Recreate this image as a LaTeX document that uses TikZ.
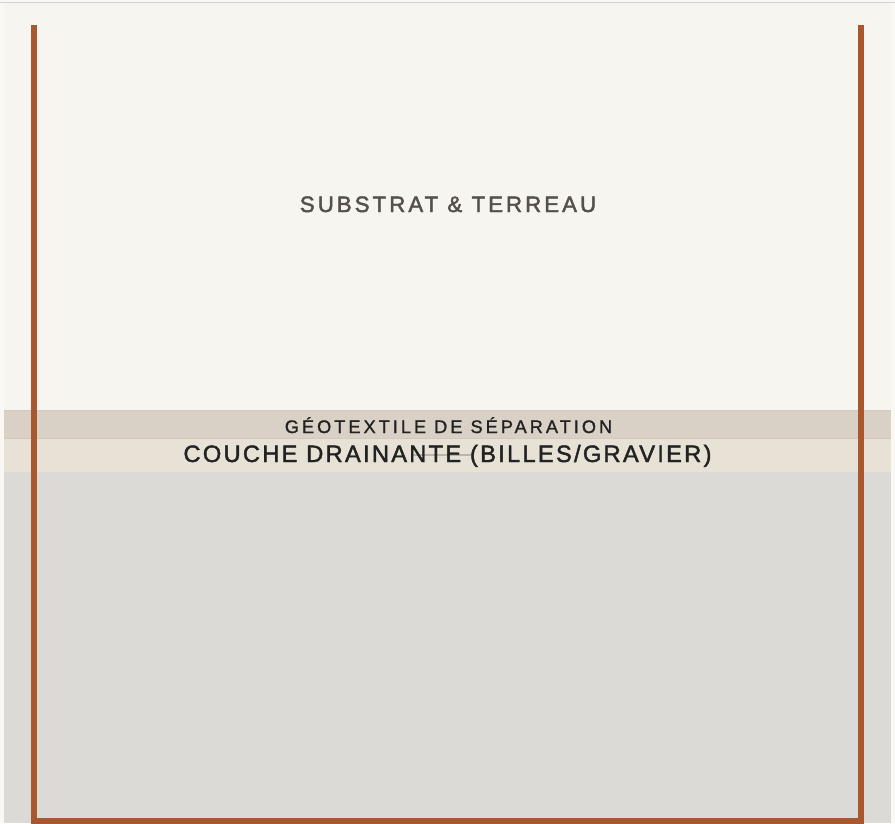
\documentclass[tikz,border=0pt]{standalone}
\usepackage{fontspec}
\setmainfont{Liberation Sans}
\definecolor{pagebg}{HTML}{FBF8F3}
\definecolor{topline}{HTML}{D2D2D2}
\definecolor{substrate}{HTML}{F7F5EF}
\definecolor{geotex}{HTML}{D9D0C6}
\definecolor{drain}{HTML}{E7E1D6}
\definecolor{basebg}{HTML}{DCDAD6}
\definecolor{seam}{HTML}{D3C8BA}
\definecolor{rust}{HTML}{A9572F}
\definecolor{txtsoft}{HTML}{55504A}
\definecolor{txtdark}{HTML}{222222}
\definecolor{pipe}{HTML}{B9B4AC}
\tikzset{
  layerlbl/.style={anchor=base, inner sep=0pt},
  wall/.style={draw=rust, line width=6pt, miter limit=10},
  seamline/.style={draw=seam, line width=1pt},
}
\begin{document}
\begin{tikzpicture}[x=1pt,y=-1pt]
\useasboundingbox (0,0) rectangle (895,823);
\fill[pagebg] (0,0) rectangle (895,823);
\fill[topline] (0,1.5) rectangle (895,2.7);
\fill[substrate] (4,3) rectangle (891,410);
\fill[geotex] (4,410) rectangle (891,438);
\fill[drain] (4,438) rectangle (891,472);
\fill[basebg] (4,472) rectangle (891,823);
\draw[seamline] (4,410.5) -- (891,410.5);
\draw[seamline] (4,438.5) -- (891,438.5);
\draw[pipe, line width=1.6pt] (413,455) -- (473,455);
\coordinate (wallTL) at (33.5,25);
\coordinate (wallBL) at (33.5,821);
\coordinate (wallBR) at (861,821);
\coordinate (wallTR) at (861,25);
\draw[wall] (wallTL) -- (wallBL) -- (wallBR) -- (wallTR);
\node[layerlbl, text=txtsoft, font=\addfontfeature{LetterSpace=13.5,FakeBold=2}\fontsize{22.3}{24}\selectfont] (substrat) at (448,212) {SUBSTRAT \& TERREAU};
\node[layerlbl, text=txtdark, font=\addfontfeature{LetterSpace=16.5,FakeBold=1.2}\fontsize{18.2}{20}\selectfont] (geotextile) at (448.5,433) {GÉOTEXTILE DE SÉPARATION};
\node[layerlbl, text=txtdark, font=\addfontfeature{LetterSpace=9.5,FakeBold=1.8}\fontsize{23.7}{26}\selectfont] (drainante) at (447.5,462) {COUCHE DRAINANTE (BILLES/GRAVIER)};
\end{tikzpicture}
\end{document}
